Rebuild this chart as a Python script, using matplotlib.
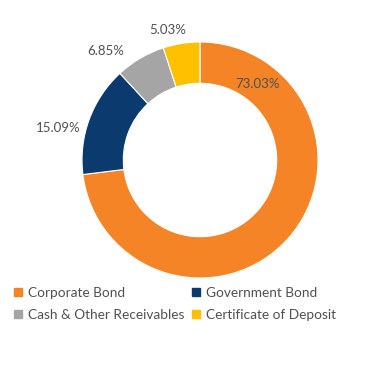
import matplotlib.pyplot as plt
from matplotlib.lines import Line2D

labels = ['Corporate Bond', 'Government Bond', 'Cash & Other Receivables', 'Certificate of Deposit']
values = [73.03, 15.09, 6.85, 5.03]
colors = ['#F58426', '#0B3A6F', '#A5A5A5', '#FFC000']
# label positions (data units, ring radius = 1)
label_pos = [(0.49, 0.64), (-1.20, 0.27), (-0.80, 0.92), (-0.27, 1.10)]

plt.rcParams['font.family'] = ['Lato', 'DejaVu Sans']

fig = plt.figure(figsize=(3.69, 3.9), dpi=100)
ax = fig.add_axes([82 / 369, 112 / 390, 236 / 369, 236 / 390])
ax.pie(values, colors=colors, startangle=90, counterclock=False, radius=1.0,
       wedgeprops=dict(width=0.35, edgecolor='white', linewidth=0.8))
for v, (x, y) in zip(values, label_pos):
    ax.text(x, y, f'{v:.2f}%', ha='center', va='center', fontsize=9.5, color='#505050')
ax.set_xlim(-1, 1)
ax.set_ylim(-1, 1)
ax.set_aspect('equal')
ax.axis('off')

# legend order: row-wise (Corporate, Government / Cash, Certificate)
order = [0, 2, 1, 3]
handles = [Line2D([], [], marker='s', linestyle='none', markersize=6,
                  markerfacecolor=colors[i], markeredgecolor=colors[i]) for i in order]
fig.legend(handles, [labels[i] for i in order], ncol=2, loc='upper left',
           bbox_to_anchor=(14 / 369, 1 - 287 / 390), frameon=False, fontsize=9.8,
           labelcolor='#505050', handlelength=0.6, handletextpad=0.4,
           columnspacing=0.6, labelspacing=0.75, borderpad=0, borderaxespad=0)

fig.savefig('out.png', dpi=100)
